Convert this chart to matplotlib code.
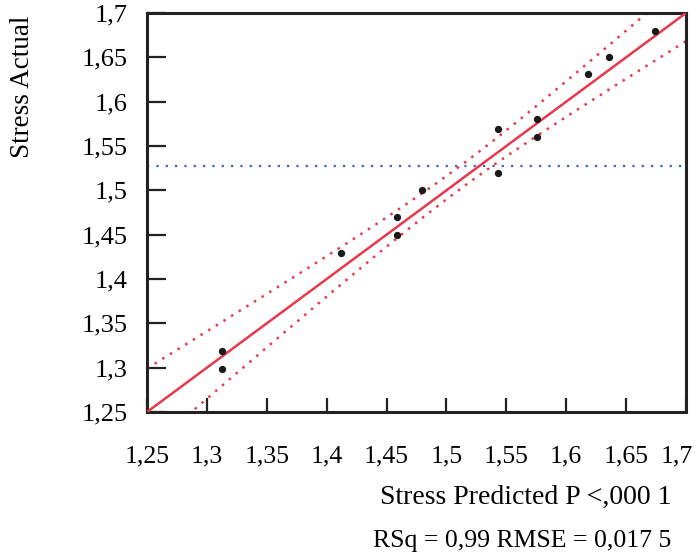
import numpy as np
import matplotlib
matplotlib.use("Agg")
import matplotlib.pyplot as plt
import matplotlib.transforms as mtransforms
from matplotlib.ticker import FuncFormatter

# Actual by predicted values for Stress
predicted = [1.313, 1.313, 1.412, 1.459, 1.459, 1.480, 1.543,
             1.543, 1.576, 1.576, 1.618, 1.636, 1.674]
actual = [1.319, 1.298, 1.429, 1.470, 1.450, 1.500, 1.569,
          1.519, 1.580, 1.560, 1.631, 1.650, 1.680]

mean_actual = 1.528

# confidence curve parameters around the fit line
band_center = 1.51
band_min = 0.013
band_slope = 0.17
band_shift = 0.003

ticks = [1.25, 1.3, 1.35, 1.4, 1.45, 1.5, 1.55, 1.6, 1.65, 1.7]
x_label = "Stress Predicted P <,000 1"
y_label = "Stress Actual"
stats_label = "RSq = 0,99 RMSE = 0,017 5"

red = "#E8384C"
blue = "#3F65B0"

plt.rcParams["font.family"] = ["Liberation Serif", "DejaVu Serif"]

fig = plt.figure(figsize=(6.98, 5.57), dpi=100)
ax = fig.add_axes([147 / 698, 1 - 412 / 557, 539 / 698, 399 / 557])

lo, hi = ticks[0], ticks[-1]
xs = np.linspace(lo, hi, 400)
half = np.sqrt(band_min ** 2 + (band_slope * (xs - band_center)) ** 2)

ax.axhline(mean_actual, color=blue, lw=1.6, ls=(0, (1, 3.2)), zorder=1)
ax.plot(xs, xs + band_shift + half, color=red, lw=1.8, ls=(0, (1, 2.6)), zorder=2)
ax.plot(xs, xs + band_shift - half, color=red, lw=1.8, ls=(0, (1, 2.6)), zorder=2)
ax.plot([lo, hi], [lo, hi], color=red, lw=1.8, zorder=3)
ax.scatter(predicted, actual, s=18, color="#1a1a1a", zorder=4)

ax.set_xlim(lo, hi)
ax.set_ylim(lo, hi)
ax.set_xticks(ticks)
ax.set_yticks(ticks)

comma = FuncFormatter(lambda v, pos: f"{v:g}".replace(".", ","))
ax.xaxis.set_major_formatter(comma)
ax.yaxis.set_major_formatter(comma)

ax.tick_params(axis="x", direction="in", length=10, width=1.6, pad=24,
               labelsize=18.5, color="#222222")
ax.tick_params(axis="y", direction="in", length=13.5, width=1.6, pad=14,
               labelsize=19, color="#222222")

for side in ax.spines.values():
    side.set_linewidth(2.2)
    side.set_color("#222222")

# keep the last x tick label inside the figure edge
fig.canvas.draw()
last = ax.get_xticklabels()[-1]
last.set_transform(last.get_transform() +
                   mtransforms.ScaledTranslation(-9 / 100, 0, fig.dpi_scale_trans))

fig.text(23 / 698, 1 - 87 / 557, y_label, rotation=90, fontsize=19.5,
         ha="center", va="center")
fig.text(671 / 698, 1 - 497 / 557, x_label, fontsize=20, ha="right", va="center")
fig.text(671 / 698, 1 - 541 / 557, stats_label, fontsize=18.5, ha="right", va="center")

fig.savefig("out.png", dpi=100)
